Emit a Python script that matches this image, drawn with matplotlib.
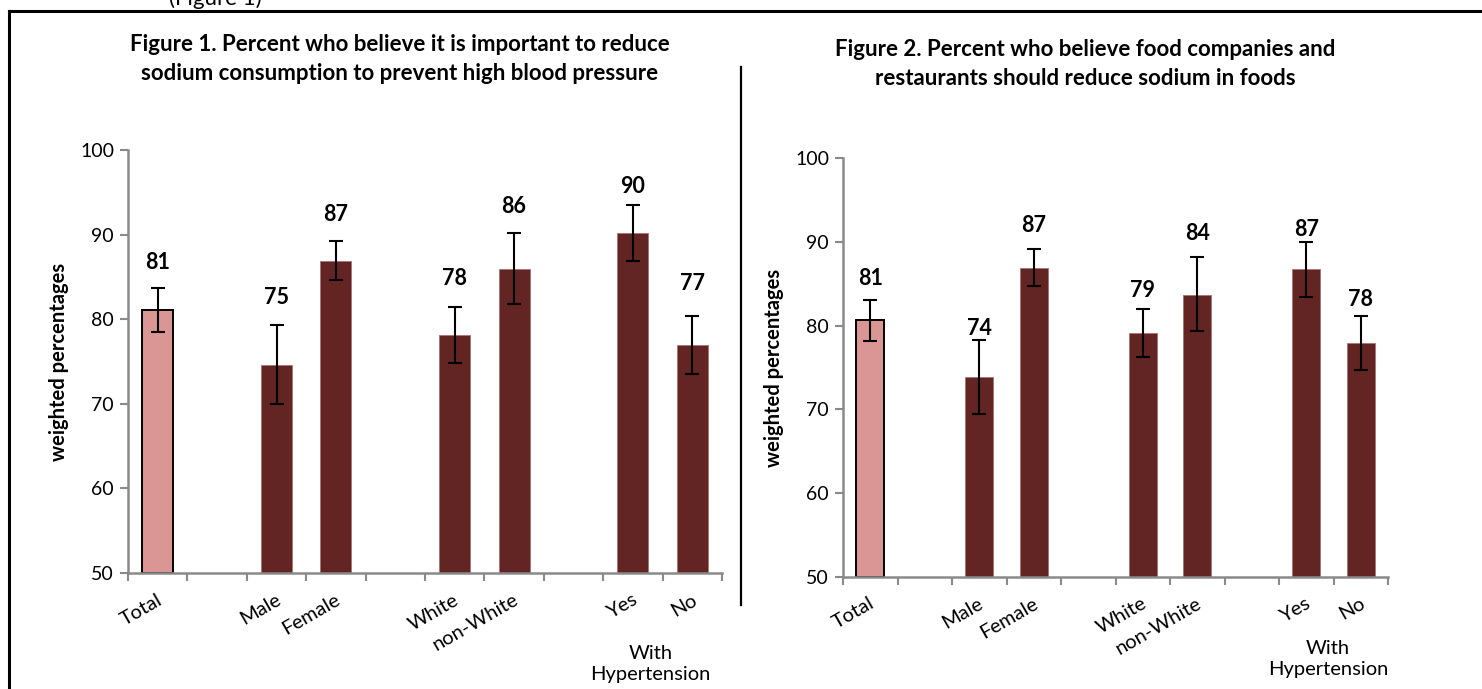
import numpy as np
import matplotlib.pyplot as plt
from matplotlib.lines import Line2D
from matplotlib.transforms import blended_transform_factory

plt.rcParams['font.family'] = ['Lato', 'DejaVu Sans']

categories = ['Total', 'Male', 'Female', 'White', 'non-White', 'Yes', 'No']
slots = [0, 2, 3, 5, 6, 8, 9]

# Figure 1: important to reduce sodium to prevent high blood pressure
fig1_vals = [81.1, 74.6, 86.9, 78.1, 85.9, 90.2, 76.9]
fig1_lo = [78.5, 70.0, 84.6, 74.8, 81.8, 86.9, 73.5]
fig1_hi = [83.7, 79.3, 89.3, 81.5, 90.2, 93.5, 80.4]

# Figure 2: food companies and restaurants should reduce sodium
fig2_vals = [80.7, 73.9, 86.9, 79.1, 83.7, 86.8, 77.9]
fig2_lo = [78.2, 69.5, 84.7, 76.2, 79.3, 83.4, 74.7]
fig2_hi = [83.1, 78.3, 89.1, 82.0, 88.2, 90.0, 81.1]

title1 = 'Figure 1. Percent who believe it is important to reduce\nsodium consumption to prevent high blood pressure'
title2 = 'Figure 2. Percent who believe food companies and\nrestaurants should reduce sodium in foods'

# label gap above the error bar cap, in points
pad1 = [18, 20, 19, 20, 19, 13, 23]
pad2 = [15, 8, 17, 13, 17, 9, 12]

TOTAL_COLOR = '#DA9694'
BAR_COLOR = '#632523'
AXIS_GRAY = '#8A8A8A'


def draw_panel(ax, vals, lo, hi, pads, width, group_x, group_y):
    vals = np.array(vals)
    yerr = [vals - np.array(lo), np.array(hi) - vals]
    colors = [TOTAL_COLOR] + [BAR_COLOR] * (len(vals) - 1)
    edges = ['black'] + ['#A87472'] * (len(vals) - 1)
    lws = [1.4] + [0.6] * (len(vals) - 1)
    ax.bar(slots, vals - 50, bottom=50, width=width, color=colors,
           edgecolor=edges, linewidth=lws, zorder=2)
    ax.errorbar(slots, vals, yerr=yerr, fmt='none', ecolor='black',
                elinewidth=1.5, capsize=4.8, capthick=1.5, zorder=3)
    for x, v, h, p in zip(slots, vals, hi, pads):
        ax.annotate(f'{v:.0f}', (x, h), xytext=(0, p), textcoords='offset points',
                    ha='center', va='center', fontsize=15.5, fontweight='bold')

    ax.set_ylim(50, 100)
    ax.set_xlim(-0.5, 9.5)
    ax.set_yticks(range(50, 101, 10))
    ax.set_xticks(np.arange(-0.5, 10, 1))
    ax.set_xticklabels([])
    ax.tick_params(axis='both', direction='out', length=6, width=1.5,
                   color=AXIS_GRAY, labelsize=14, pad=4)
    for s in ['top', 'right']:
        ax.spines[s].set_visible(False)
    for s in ['left', 'bottom']:
        ax.spines[s].set_color(AXIS_GRAY)
        ax.spines[s].set_linewidth(1.8)

    trans = blended_transform_factory(ax.transData, ax.transAxes)
    for x, name in zip(slots, categories):
        ax.text(x + 0.05, -0.06, name, transform=trans, rotation=30,
                rotation_mode='anchor', ha='right', va='center', fontsize=14.5)
    ax.text(group_x, group_y, 'With\nHypertension', transform=trans, ha='center',
            va='center', fontsize=14.5, linespacing=1.3)
    ax.set_ylabel('weighted percentages', fontsize=14.5, fontweight='bold', labelpad=8)


fig = plt.figure(figsize=(14.82, 6.89), dpi=100)

ax1 = fig.add_axes([128 / 1482, 1 - 573 / 689, 594 / 1482, 423 / 689])
draw_panel(ax1, fig1_vals, fig1_lo, fig1_hi, pad1, 0.52, 8.3, -0.215)

ax2 = fig.add_axes([843 / 1482, 1 - 577 / 689, 545 / 1482, 419 / 689])
draw_panel(ax2, fig2_vals, fig2_lo, fig2_hi, pad2, 0.51, 8.4, -0.195)

fig.text(400 / 1482, 1 - 59 / 689, title1, ha='center', va='center',
         fontsize=16, fontweight='bold', linespacing=1.5)
fig.text(1085 / 1482, 1 - 64 / 689, title2, ha='center', va='center',
         fontsize=16, fontweight='bold', linespacing=1.5)

# page text cut off above the frame
fig.text(215 / 1482, 1 - 5 / 689, '(Figure 1)', ha='center', va='baseline', fontsize=16)

# frame and divider
fig.add_artist(Line2D([9 / 1482, 9 / 1482], [0, 1 - 11 / 689], color='black', lw=2.2))
fig.add_artist(Line2D([9 / 1482, 1], [1 - 11 / 689, 1 - 11 / 689], color='black', lw=2.2))
fig.add_artist(Line2D([741 / 1482, 741 / 1482], [1 - 67 / 689, 1 - 605 / 689],
                      color='black', lw=1.6))

fig.savefig('out.png', dpi=100)
